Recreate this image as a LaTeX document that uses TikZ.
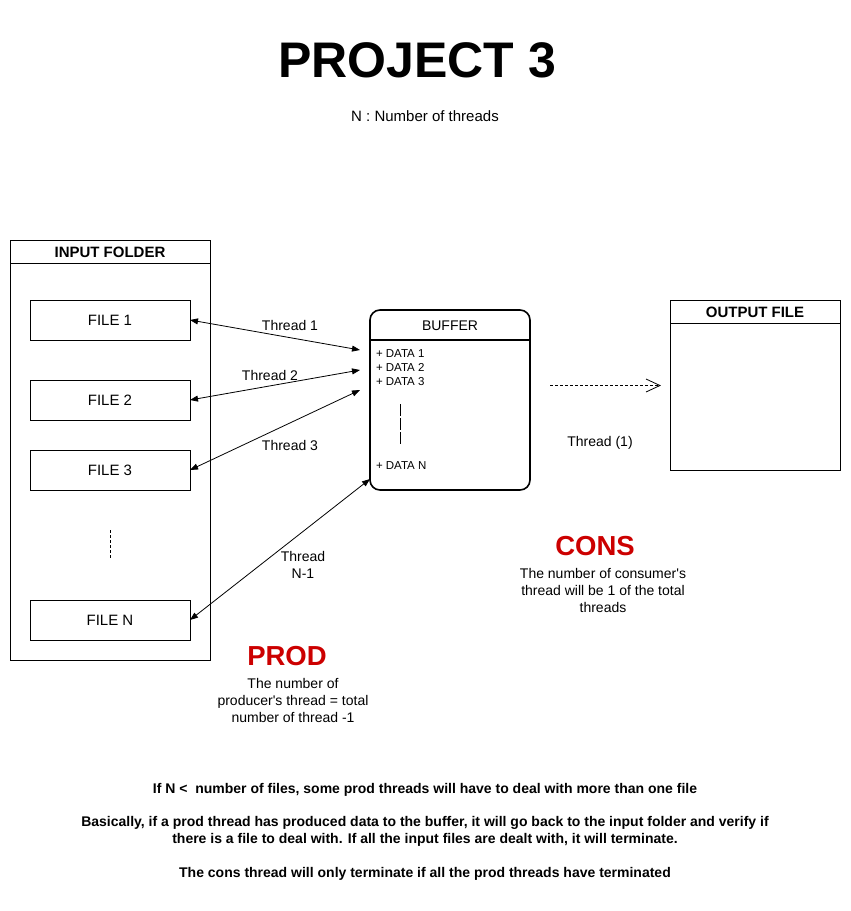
\documentclass[tikz,border=0pt]{standalone}
\usepackage{fontspec}
\setmainfont{Liberation Sans}
\usetikzlibrary{arrows.meta}
\definecolor{consred}{HTML}{CC0000}
\begin{document}
\begin{tikzpicture}[x=1pt,y=-1pt,
  every node/.style={inner sep=0pt,outer sep=0pt},
  filebox/.style={draw,line width=1pt,minimum width=160pt,minimum height=40pt,font=\fontsize{15}{18}\selectfont},
  lbl/.style={font=\fontsize{14}{17}\selectfont,align=center},
  smalllbl/.style={font=\fontsize{11.5}{14}\selectfont,anchor=base west},
  boldtxt/.style={font=\fontsize{14}{17}\selectfont\bfseries,align=center},
  bigred/.style={font=\fontsize{27.5}{32}\selectfont\bfseries,text=consred},
  thr/.style={line width=0.8pt,{Triangle[length=8pt,width=6pt]}-{Triangle[length=8pt,width=6pt]}}
]
\useasboundingbox (0,0) rectangle (851,911);

% title
\node (title) at (417,60) {\fontsize{50}{60}\selectfont\bfseries PROJECT 3};
\node[lbl,font=\fontsize{15}{18}\selectfont] (nsub) at (425,116) {N : Number of threads};

% input folder
\node[draw,line width=1pt,minimum width=200pt,minimum height=420pt] (folder) at (110,450) {};
\draw[line width=1pt] (10,263) -- (210,263);
\node[font=\fontsize{15}{18}\selectfont\bfseries] (foldert) at (110,252) {INPUT FOLDER};

\node[filebox] (f1) at (110,320) {FILE 1};
\node[filebox] (f2) at (110,400) {FILE 2};
\node[filebox] (f3) at (110,470) {FILE 3};
\node[filebox] (fn) at (110,620) {FILE N};
\coordinate (dt) at (110,530);
\coordinate (db) at (110,558);
\draw[line width=0.8pt,dash pattern=on 3pt off 2pt] (dt) -- (db);

% buffer
\node[draw,line width=1.6pt,rounded corners=10pt,minimum width=160pt,minimum height=180pt] (buf) at (450,400) {};
\draw[line width=1.6pt] (370,340) -- (530,340);
\node[lbl] (buft) at (450,326) {BUFFER};
\node[smalllbl] (d1) at (376,357.5) {+ DATA 1};
\node[smalllbl] (d2) at (376,371.5) {+ DATA 2};
\node[smalllbl] (d3) at (376,385.5) {+ DATA 3};
\node[smalllbl] (dn) at (376,469.5) {+ DATA N};
\draw[line width=0.8pt] (400.5,404) -- (400.5,416) (400.5,418) -- (400.5,430) (400.5,432) -- (400.5,444);

% output file
\node[draw,line width=1pt,minimum width=170pt,minimum height=170pt] (out) at (755,385) {};
\draw[line width=1pt] (670,323) -- (840,323);
\node[font=\fontsize{15}{18}\selectfont\bfseries] (outt) at (755,312) {OUTPUT FILE};

% connectors
\coordinate (b1) at (360,350);
\coordinate (b2) at (360,370);
\coordinate (b3) at (360,390);
\coordinate (bn) at (370,479);
\draw[thr] (f1.east) -- (b1);
\draw[thr] (f2.east) -- (b2);
\draw[thr] (f3.east) -- (b3);
\draw[thr] (fn.east) -- (bn);

\node[lbl] (t1) at (290,325) {Thread 1};
\node[lbl] (t2) at (270,375) {Thread 2};
\node[lbl] (t3) at (290,445) {Thread 3};
\node[lbl] (tn) at (303,565) {Thread\\N-1};

\coordinate (cs) at (550,385.5);
\coordinate (ce) at (660,385.5);
\draw[line width=0.8pt,dash pattern=on 3pt off 2pt] (cs) -- (ce);
\draw[line width=0.8pt] (646,379) -- (660,385.5) -- (646,392);
\node[lbl] (tc) at (600,443) {Thread (1)};

% CONS / PROD
\node[bigred] (cons) at (595,546) {CONS};
\node[lbl] (const) at (603,590) {The number of consumer\textquotesingle s\\thread will be 1 of the total\\threads};
\node[bigred] (prod) at (287,656) {PROD};
\node[lbl] (prodt) at (293,700) {The number of\\producer\textquotesingle s thread = total\\number of thread -1};

% bottom notes
\node[boldtxt] (n1) at (425,789.5) {If N <\ \ number of files, some prod threads will have to deal with more than one file};
\node[boldtxt] (n2) at (425,831) {Basically, if a prod thread has produced data to the buffer, it will go back to the input folder and verify if\\there is a file to deal with. If all the input files are dealt with, it will terminate.};
\node[boldtxt] (n3) at (425,873.5) {The cons thread will only terminate if all the prod threads have terminated};
\end{tikzpicture}
\end{document}
